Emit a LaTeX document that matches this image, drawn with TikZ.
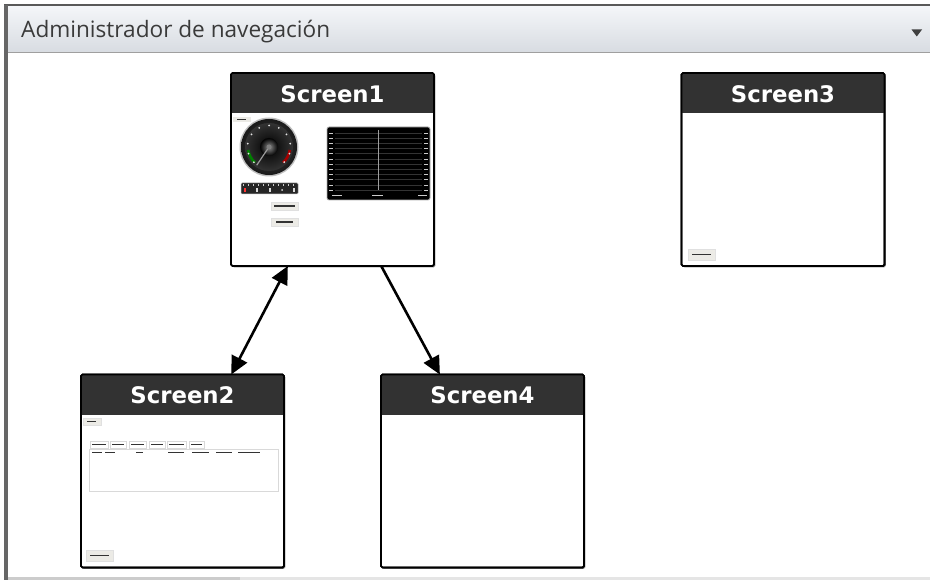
\documentclass[tikz,border=0pt]{standalone}
\usepackage{fontspec}
\newfontfamily\djv{DejaVu Sans}
\newfontfamily\osans{Open Sans}
\usetikzlibrary{calc,arrows.meta,shadows}
\definecolor{hdtop}{HTML}{F4F6F9}
\definecolor{hdbot}{HTML}{D8DCE2}
\definecolor{hdrgray}{HTML}{323232}
\definecolor{btngray}{HTML}{ECEBE6}
\definecolor{txtgray}{HTML}{3A3A3A}
\begin{document}
\begin{tikzpicture}[x=1bp,y=-1bp,
  screen/.style={draw=black,line width=1.6bp,fill=white,minimum width=203bp,minimum height=193bp,
    inner sep=0pt,outer sep=0pt,rounded corners=1.5bp,
    general shadow={fill=black!45,shadow xshift=1.3bp,shadow yshift=-1.3bp}},
  title/.style={text=white,font=\djv\bfseries\fontsize{22.8bp}{26bp}\selectfont,inner sep=0pt},
  link/.style={line width=2.6bp,-{Triangle[length=18bp,width=17bp]}},
  blink/.style={line width=2.6bp,{Triangle[length=18bp,width=17bp]}-{Triangle[length=18bp,width=17bp]}},
  btn/.style={fill=btngray,draw=black!12,line width=0.4bp},
  txtline/.style={line width=1.3bp,black!80},
  hline/.style={gray!40!black,line width=0.6bp},
  wdash/.style={white!80!black,line width=0.9bp}
]
\useasboundingbox (0,0) rectangle (930,580);
\fill[white] (0,0) rectangle (930,580);

% panel frame and header
\shade[top color=hdtop,bottom color=hdbot] (8,6) rectangle (930,52);
\draw[gray!75,line width=0.8bp] (8,52.5) -- (930,52.5);
\draw[black!65,line width=1.6bp] (4,5) -- (930,5);
\fill[black!60] (4,5) rectangle (8,580);
\fill[gray!20] (8,577) rectangle (930,580);
\fill[gray!40] (8,577) rectangle (240,580);
\node[anchor=west,inner sep=0pt,text=txtgray,font=\osans\fontsize{22.6bp}{25bp}\selectfont] (hdr) at (21,32) {Administrador de navegación};
\fill[black!75] (911.5,29.5) -- (922,29.5) -- (916.75,36.5) -- cycle;

% screens
\node[screen] (s1) at (332.5,169.5) {};
\node[screen] (s3) at (783,169.5) {};
\node[screen] (s2) at (182.5,471) {};
\node[screen] (s4) at (482.5,471) {};
\foreach \s in {s1,s2,s3,s4}{
  \fill[hdrgray,rounded corners=1.5bp] (\s.north west) rectangle ([yshift=-40bp]\s.north east);
  \fill[hdrgray] ([yshift=-10bp]\s.north west) rectangle ([yshift=-40bp]\s.north east);
  \draw[black,line width=1.6bp,rounded corners=1.5bp] (\s.north west) rectangle (\s.south east);
}
\node[title] (t1) at ([yshift=-21bp]s1.north) {Screen1};
\node[title] (t3) at ([yshift=-21bp]s3.north) {Screen3};
\node[title] (t2) at ([yshift=-21bp]s2.north) {Screen2};
\node[title] (t4) at ([yshift=-21bp]s4.north) {Screen4};

% ---- Screen1 thumbnail ----
\fill[btngray] (233,117) rectangle (251,122);
\draw[txtline] (237,119.5) -- (246,119.5);
% gauge
\coordinate (gc) at (269,147);
\fill[black!25] (gc) circle[radius=29.5];
\shade[inner color=black!70,outer color=black!90] (gc) circle[radius=28];
\shade[inner color=black,outer color=black!80] (gc) circle[radius=24];
\shade[inner color=black!45,outer color=black] (gc) circle[radius=9];
\draw[green!50!black,line width=2.6bp] ($(gc)+(-228:21)$) arc[start angle=-228,end angle=-188,radius=21];
\draw[red!65!black,line width=2.6bp] ($(gc)+(8:21)$) arc[start angle=8,end angle=48,radius=21];
\foreach \a in {0,1,...,10}{
  \fill[white!90!black] ($(gc)+(-225+27*\a:21.5)$) circle[radius=1];
}
\draw[gray!80,line width=1.2bp] (gc) -- ($(gc)+(-236:22)$);
\fill[gray] (gc) circle[radius=2.5];
% slider
\fill[black!85,draw=gray!60,line width=0.5bp,rounded corners=1bp] (241,183) rectangle (298,194);
\foreach \i in {0,...,10}{\draw[white!80!black,line width=0.5bp] (243.5+5*\i,184.5) -- (243.5+5*\i,186.5);}
\fill[red!80] (243.5,188) rectangle (245.5,192);
\foreach \xx in {256,269,293}{\fill[white!85!black] (\xx,188) rectangle (\xx+2,192);}
\fill[white!85!black] (282,190) circle[radius=1];
% buttons
\fill[btn] (271,202) rectangle (298,210);
\draw[txtline,line width=1.1bp] (274,206) -- (295,206);
\fill[btn] (271,218) rectangle (298,226);
\draw[txtline,line width=1.1bp] (276,222) -- (293,222);
% chart
\fill[black,draw=gray!60,line width=0.8bp,rounded corners=2bp] (327,127) rectangle (430,200);
\foreach \k in {0,...,11}{
  \draw[hline] (335,{133+5.2*\k}) -- (422,{133+5.2*\k});
  \draw[wdash] (329,{133+5.2*\k}) -- (333,{133+5.2*\k});
  \draw[wdash] (424,{133+5.2*\k}) -- (428,{133+5.2*\k});
}
\draw[gray!75,line width=0.9bp] (378,130) -- (378,190);
\draw[wdash] (332,195.5) -- (342,195.5);
\draw[wdash] (372,195.5) -- (383,195.5);
\draw[wdash] (418,195.5) -- (427,195.5);

% ---- Screen2 thumbnail ----
\fill[btn] (83,418) rectangle (101,425);
\draw[txtline,line width=1.1bp] (87,421.5) -- (96,421.5);
\foreach \xa/\xb in {90/108,110/126,129/146,149/165,167/186,189/204}{
  \draw[black!15,line width=0.5bp,fill=white] (\xa,441) rectangle (\xb,448);
  \draw[txtline,line width=0.9bp] (\xa+2,444.5) -- (\xb-2,444.5);
}
\draw[black!15,line width=0.6bp] (89,449) rectangle (278,491);
\foreach \xa/\xb in {92/102,105/115,136/143,168/184,192/209,216/232,238/260}{
  \draw[txtline,line width=0.9bp] (\xa,452.5) -- (\xb,452.5);
}
\fill[btn] (86,550) rectangle (113,561);
\draw[txtline,line width=1.1bp] (90,555.5) -- (109,555.5);

% ---- Screen3 thumbnail ----
\fill[btn] (688,249) rectangle (715,260);
\draw[txtline,line width=1.1bp] (692,254.5) -- (711,254.5);

% connectors
\coordinate (a1) at ($(s1.south west)!0.28!(s1.south east)$);
\coordinate (a2) at ($(s2.north west)!0.74!(s2.north east)$);
\coordinate (b1) at ($(s1.south west)!0.74!(s1.south east)$);
\coordinate (b4) at ($(s4.north west)!0.29!(s4.north east)$);
\draw[blink] (a1) -- (a2);
\draw[link] (b1) -- (b4);
\end{tikzpicture}
\end{document}
